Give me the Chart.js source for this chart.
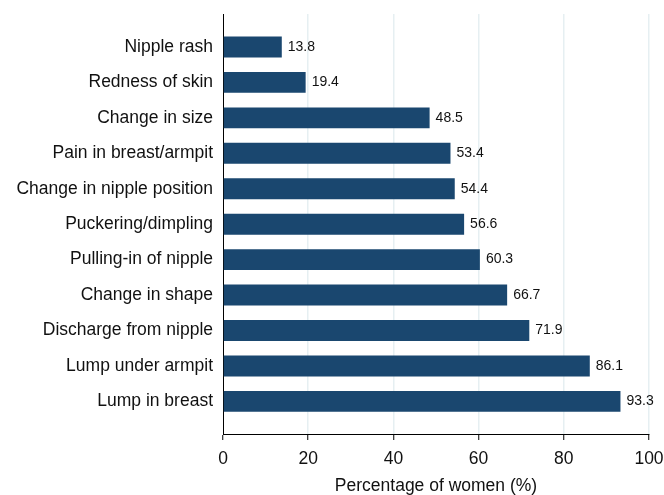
<!DOCTYPE html>
<html>
<head>
<meta charset="utf-8">
<script src="https://cdn.jsdelivr.net/npm/chart.js@4/dist/chart.umd.min.js"></script>
<style>
  html, body { margin: 0; padding: 0; background: #fff; }
  #wrap { width: 664px; height: 495px; }
</style>
</head>
<body>
<div id="wrap"><canvas id="chart"></canvas></div>
<script>
// data, top to bottom
const categories = [
  'Nipple rash', 'Redness of skin', 'Change in size', 'Pain in breast/armpit',
  'Change in nipple position', 'Puckering/dimpling', 'Pulling-in of nipple',
  'Change in shape', 'Discharge from nipple', 'Lump under armpit', 'Lump in breast'
];
const percentWomen = [13.8, 19.4, 48.5, 53.4, 54.4, 56.6, 60.3, 66.7, 71.9, 86.1, 93.3];
const xTicks = [0, 20, 40, 60, 80, 100];

const FONT = '"Liberation Sans", Arial, Helvetica, sans-serif';
const NAVY = '#1a476f';

// value labels right of each bar
const valueLabels = {
  id: 'valueLabels',
  afterDatasetsDraw(chart) {
    const ctx = chart.ctx;
    const meta = chart.getDatasetMeta(0);
    ctx.save();
    ctx.font = '14px ' + FONT;
    ctx.fillStyle = '#111';
    ctx.textBaseline = 'middle';
    ctx.textAlign = 'left';
    meta.data.forEach((bar, i) => {
      ctx.fillText(percentWomen[i].toFixed(1), bar.x + 6, bar.y);
    });
    ctx.restore();
  }
};

let points = percentWomen.map((v, i) => ({ x: v, y: i }));

new Chart(document.getElementById('chart'), {
  type: 'bar',
  data: {
    datasets: [{
      data: points,
      backgroundColor: NAVY,
      borderWidth: 0,
      categoryPercentage: 1,
      barPercentage: 0.59
    }]
  },
  options: {
    indexAxis: 'y',
    responsive: true,
    maintainAspectRatio: false,
    animation: false,
    layout: { padding: { top: 14, right: 0, left: 0, bottom: 0 } },
    plugins: { legend: { display: false }, tooltip: { enabled: false } },
    scales: {
      x: {
        type: 'linear',
        min: 0,
        max: 100,
        bounds: 'data',
        afterBuildTicks: s => { s.ticks = xTicks.map(v => ({ value: v })); },
        afterFit: s => { s.height = 61; s.paddingRight = 15; s.paddingLeft = 0; },
        grid: {
          color: ctx => ctx.tick && ctx.tick.value === 0 ? 'rgba(0,0,0,0)' : '#e6eff2',
          lineWidth: 1.5,
          drawTicks: true,
          tickLength: 6,
          tickColor: '#000',
          tickWidth: 1
        },
        border: { display: true, color: '#000', width: 1 },
        ticks: { color: '#111', font: { family: FONT, size: 17.5 }, padding: 9 },
        title: {
          display: true,
          text: 'Percentage of women (%)',
          color: '#111',
          font: { family: FONT, size: 17.5, lineHeight: 1 },
          padding: { top: 4, bottom: 0 }
        }
      },
      y: {
        type: 'linear',
        reverse: true,
        offset: false,
        min: -0.93,
        max: 10.92,
        bounds: 'data',
        afterBuildTicks: s => { s.ticks = categories.map((c, i) => ({ value: i })); },
        afterFit: s => { s.width = 223; s.paddingTop = 0; s.paddingBottom = 0; },
        grid: { display: false, drawTicks: false, offset: false },
        border: { display: true, color: '#000', width: 1 },
        ticks: {
          color: '#111',
          font: { family: FONT, size: 17.5 },
          padding: 10,
          autoSkip: false,
          callback: v => categories[v]
        }
      }
    }
  },
  plugins: [valueLabels]
});
</script>
</body>
</html>
